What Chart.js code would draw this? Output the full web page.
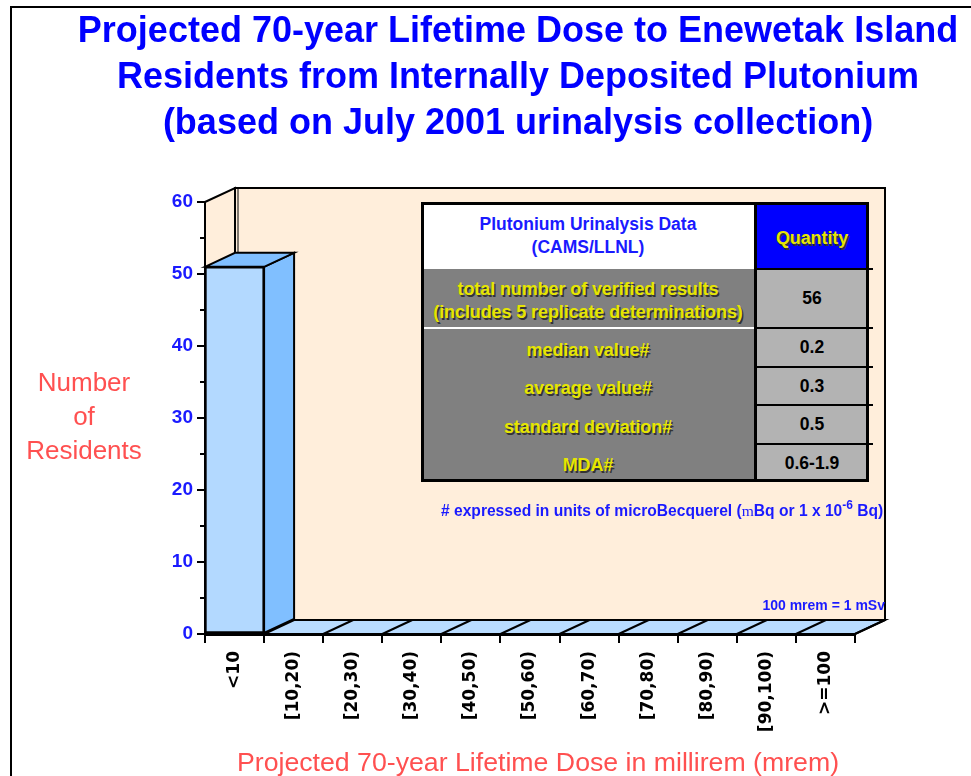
<!DOCTYPE html>
<html>
<head>
<meta charset="utf-8">
<script src="https://cdn.jsdelivr.net/npm/chart.js@4.4.1/dist/chart.umd.min.js"></script>
<style>
html, body { margin: 0; padding: 0; background: #fff; }
body { width: 971px; height: 776px; position: relative; overflow: hidden; font-family: "Liberation Sans", Arial, sans-serif; }
#frame { position: absolute; left: 10px; top: 6px; width: 1000px; height: 800px; border-left: 2px solid #000; border-top: 2px solid #000; }
#chart { position: absolute; left: 0; top: 0; }
.title { position: absolute; left: 65px; top: 7px; width: 906px; text-align: center; color: #0000ff; font-weight: bold; font-size: 36px; line-height: 46px; }
.ytitle { position: absolute; left: 0; top: 365px; width: 168px; text-align: center; color: #ff5050; font-size: 26px; line-height: 34px; }
.xtitle { position: absolute; left: 138px; top: 745px; width: 800px; text-align: center; color: #ff5050; font-size: 26.7px; line-height: 34px; white-space: nowrap; }
.note { position: absolute; color: #1a1aff; font-weight: bold; font-size: 14px; line-height: 16px; white-space: nowrap; }
.note sup { font-size: 12px; vertical-align: 7px; line-height: 0; }
.mu { font-family: "Liberation Serif", serif; font-weight: normal; }
#table { position: absolute; left: 421px; top: 202px; width: 448px; height: 280px; }
#table div { position: absolute; box-sizing: border-box; }
.cell { display: flex; align-items: center; justify-content: center; text-align: center; font-weight: bold; font-size: 17.5px; line-height: 23px; white-space: nowrap; }
.yel { color: #e6e600; text-shadow: 1.5px 1.5px 0 #333; font-size: 18px; letter-spacing: -0.1px; padding-top: 5px; }
</style>
</head>
<body>
<div id="frame"></div>
<canvas id="chart" width="971" height="776"></canvas>
<div class="title">Projected 70-year Lifetime Dose to Enewetak Island<br>Residents from Internally Deposited Plutonium<br>(based on July 2001 urinalysis collection)</div>
<div class="ytitle">Number<br>of<br>Residents</div>
<div class="xtitle">Projected 70-year Lifetime Dose in millirem (mrem)</div>
<div id="table"></div>
<div class="note" style="left:441px; top:503px; font-size:15.6px;"># expressed in units of microBecquerel (<span class="mu">m</span>Bq or 1 x 10<sup>-6</sup> Bq)</div>
<div class="note" style="left:685px; top:597px; width:200px; text-align:right;">100 mrem = 1 mSv</div>
<script>
// dose bins (mrem) and number of residents in each
const categories = ['<10', '[10,20)', '[20,30)', '[30,40)', '[40,50)', '[50,60)', '[60,70)', '[70,80)', '[80,90)', '[90,100)', '>=100'];
const residents = [51, 0, 0, 0, 0, 0, 0, 0, 0, 0, 0];
const yMax = 60;
const yStep = 10;
const yMinor = [5, 15, 25, 35, 45, 55];

// summary table
const tableHead = ['Plutonium Urinalysis Data<br>(CAMS/LLNL)', 'Quantity'];
const tableLabels = ['total number of verified results<br>(includes 5 replicate determinations)', 'median value#', 'average value#', 'standard deviation#', 'MDA#'];
const tableValues = ['56', '0.2', '0.3', '0.5', '0.6-1.9'];

const DX = 30, DY = -14; // 3d depth

function buildTable() {
    const t = document.getElementById('table');
    const rows = [0, 67, 126, 165, 203, 242, 280];
    const col = 334, w = 448;
    let html = '';
    html += `<div style="left:0;top:0;width:${w}px;height:280px;background:#808080;"></div>`;
    html += `<div class="cell" style="left:0;top:0;width:${col}px;height:${rows[1]}px;background:#fff;color:#1a1aff;">${tableHead[0]}</div>`;
    html += `<div class="cell yel" style="left:${col}px;top:0;width:${w - col}px;height:${rows[1]}px;background:#0000ff;">${tableHead[1]}</div>`;
    tableLabels.forEach((lab, i) => {
        const top = rows[i + 1], h = rows[i + 2] - rows[i + 1];
        html += `<div class="cell yel" style="left:0;top:${top}px;width:${col}px;height:${h}px;">${lab}</div>`;
        html += `<div class="cell" style="left:${col}px;top:${top}px;width:${w - col}px;height:${h}px;background:#b3b3b3;color:#000;">${tableValues[i]}</div>`;
        html += `<div style="left:${col}px;top:${top - 1}px;width:${w - col + 4}px;height:2px;background:#000;"></div>`;
    });
    html += `<div style="left:0;top:${rows[2] - 1}px;width:${col}px;height:2px;background:#fff;"></div>`;
    html += `<div style="left:${col - 1}px;top:0;width:3px;height:280px;background:#000;"></div>`;
    html += `<div style="left:0;top:0;width:${w}px;height:280px;border:3px solid #000;"></div>`;
    t.innerHTML = html;
}
buildTable();

const box3d = {
    id: 'box3d',
    beforeDraw(chart) {
        const { ctx, chartArea: a, scales: { x, y } } = chart;
        const top = y.getPixelForValue(yMax), bot = y.getPixelForValue(0);
        ctx.save();
        ctx.lineWidth = 2;
        ctx.strokeStyle = '#000';
        // back wall
        ctx.fillStyle = '#ffeedb';
        ctx.fillRect(a.left + DX, top + DY, a.right - a.left, bot - top);
        ctx.strokeRect(a.left + DX, top + DY, a.right - a.left, bot - top);
        ctx.beginPath();
        ctx.moveTo(a.left + DX + 3, top + DY);
        ctx.lineTo(a.left + DX + 3, bot + DY);
        ctx.lineWidth = 1;
        ctx.stroke();
        ctx.lineWidth = 2;
        // side wall
        ctx.beginPath();
        ctx.moveTo(a.left, top);
        ctx.lineTo(a.left + DX, top + DY);
        ctx.lineTo(a.left + DX, bot + DY);
        ctx.lineTo(a.left, bot);
        ctx.closePath();
        ctx.fill();
        ctx.stroke();
        // floor
        ctx.fillStyle = '#b9dcff';
        ctx.beginPath();
        ctx.moveTo(a.left, bot);
        ctx.lineTo(a.left + DX, bot + DY);
        ctx.lineTo(a.right + DX, bot + DY);
        ctx.lineTo(a.right, bot);
        ctx.closePath();
        ctx.fill();
        ctx.stroke();
        const half = (x.getPixelForValue(1) - x.getPixelForValue(0)) / 2;
        categories.forEach((c, i) => {
            const bx = x.getPixelForValue(i) + half;
            ctx.beginPath();
            ctx.moveTo(bx, bot);
            ctx.lineTo(bx + DX, bot + DY);
            ctx.stroke();
        });
        ctx.restore();
    },
    afterDatasetsDraw(chart) {
        const { ctx, chartArea: a, scales: { y } } = chart;
        const meta = chart.getDatasetMeta(0);
        ctx.save();
        ctx.lineWidth = 2;
        ctx.strokeStyle = '#000';
        meta.data.forEach((bar, i) => {
            if (!residents[i]) return;
            const p = bar.getProps(['x', 'y', 'base', 'width'], true);
            const l = p.x - p.width / 2, r = p.x + p.width / 2;
            ctx.fillStyle = '#80bfff';
            ctx.beginPath();
            ctx.moveTo(r, p.y);
            ctx.lineTo(r + DX, p.y + DY);
            ctx.lineTo(r + DX, p.base + DY);
            ctx.lineTo(r, p.base);
            ctx.closePath();
            ctx.fill();
            ctx.stroke();
            ctx.beginPath();
            ctx.moveTo(l, p.y);
            ctx.lineTo(l + DX, p.y + DY);
            ctx.lineTo(r + DX, p.y + DY);
            ctx.lineTo(r, p.y);
            ctx.closePath();
            ctx.fill();
            ctx.stroke();
        });
        // minor ticks on the value axis
        yMinor.forEach(v => {
            const py = y.getPixelForValue(v);
            ctx.beginPath();
            ctx.moveTo(a.left - 5, py);
            ctx.lineTo(a.left, py);
            ctx.stroke();
        });
        ctx.restore();
    }
};

new Chart(document.getElementById('chart'), {
    type: 'bar',
    data: {
        labels: categories,
        datasets: [{
            data: residents,
            backgroundColor: '#b3d9ff',
            borderColor: '#000',
            borderWidth: 2,
            borderSkipped: false,
            barPercentage: 1,
            categoryPercentage: 1
        }]
    },
    options: {
        responsive: false,
        animation: false,
        devicePixelRatio: 1,
        layout: { padding: { left: 145, right: 116, top: 202, bottom: 42 } },
        plugins: { legend: { display: false }, tooltip: { enabled: false } },
        scales: {
            x: {
                afterFit: s => { s.height = 100; },
                grid: { drawOnChartArea: false, tickLength: 9, color: '#000', lineWidth: 2 },
                border: { color: '#000', width: 3 },
                ticks: {
                    minRotation: 90, maxRotation: 90, autoSkip: false, padding: 8,
                    color: '#000', font: { family: 'DejaVu Sans', weight: 'bold', size: 17 }
                }
            },
            y: {
                min: 0, max: yMax,
                afterFit: s => { s.width = 60; },
                grid: { drawOnChartArea: false, tickLength: 8, color: '#000', lineWidth: 2 },
                border: { color: '#000', width: 2 },
                ticks: {
                    stepSize: yStep, padding: 4, color: '#1a1aff',
                    font: { family: 'Liberation Sans', weight: 'bold', size: 19 }
                }
            }
        }
    },
    plugins: [box3d]
});
</script>
</body>
</html>
